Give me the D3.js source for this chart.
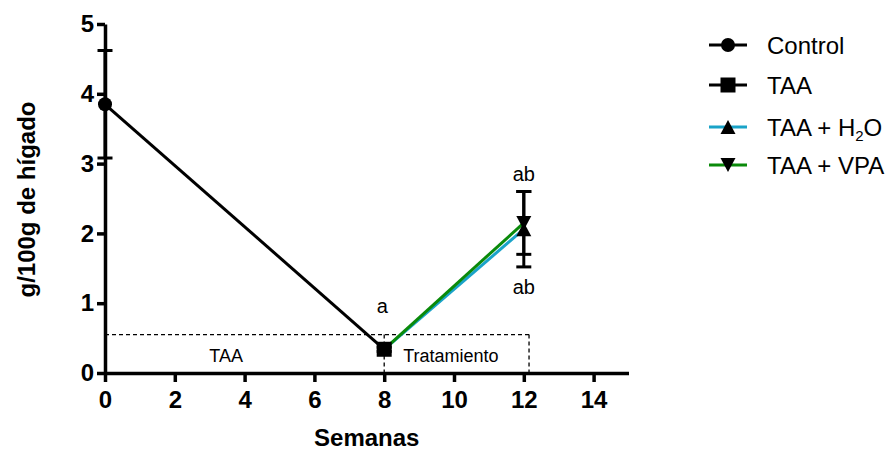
<!DOCTYPE html>
<html>
<head>
<meta charset="utf-8">
<script src="https://cdn.jsdelivr.net/npm/d3@7"></script>
<style>
  html, body { margin: 0; padding: 0; background: #fff; }
  svg { display: block; }
  text { font-family: "Liberation Sans", Arial, sans-serif; fill: #000; }
</style>
</head>
<body>
<svg id="chart" width="893" height="450"></svg>
<script>
// Liver fat content (g/100 g liver) over the weeks of the protocol
const groups = ["Control", "TAA", "TAA + H2O", "TAA + VPA"];
const groupWeeks = [0, 8, 12, 12];
const groupMeans = [3.85, 0.34, 2.06, 2.15];
const groupSems  = [0.77, 0.03, 0.54, 0.45];
const groupColors = ["#000000", "#000000", "#1aa3c8", "#0a8a0a"];
const groupShapes = ["circle", "square", "triangleUp", "triangleDown"];

// segments joining the group means (index pairs into the arrays above)
const segments = [[0, 1], [1, 2], [1, 3]];

const xTicks = [0, 2, 4, 6, 8, 10, 12, 14];
const yTicks = [0, 1, 2, 3, 4, 5];

// phase box: TAA induction (0-8) and treatment (8-12)
const phaseTop = 0.55;
const phaseBounds = [0, 8, 12.15];
const phaseLabels = ["TAA", "Tratamiento"];

// significance letters
const sigLetters = ["a", "ab", "ab"];

const svg = d3.select("#chart");
const x = d3.scaleLinear().domain([0, 15]).range([105, 628.5]);
const y = d3.scaleLinear().domain([0, 5]).range([373, 24]);

function markerPath(shape) {
  if (shape === "circle") return d3.symbol(d3.symbolCircle, Math.PI * 7 * 7)();
  if (shape === "square") return d3.symbol(d3.symbolSquare, 15 * 15)();
  const w = 7.5, h = 7;
  if (shape === "triangleUp") return `M0,${-h}L${w},${h}L${-w},${h}Z`;
  return `M0,${h}L${w},${-h}L${-w},${-h}Z`;
}

// dashed phase box
const box = svg.append("g").attr("fill", "none").attr("stroke", "#000")
  .attr("stroke-width", 1.3).attr("stroke-dasharray", "4,3");
box.append("line")
  .attr("x1", x(phaseBounds[0])).attr("x2", x(phaseBounds[2]))
  .attr("y1", y(phaseTop)).attr("y2", y(phaseTop));
[phaseBounds[1], phaseBounds[2]].forEach(v => {
  box.append("line").attr("x1", x(v)).attr("x2", x(v))
    .attr("y1", y(phaseTop)).attr("y2", y(0));
});
svg.append("text").attr("x", x(3.47))
  .attr("y", 362).attr("text-anchor", "middle").attr("font-size", 18)
  .text(phaseLabels[0]);
svg.append("text").attr("x", x(phaseBounds[1]) + 19)
  .attr("y", 362).attr("font-size", 18).text(phaseLabels[1]);

// axes
const xAxis = svg.append("g").attr("transform", `translate(0,${y(0)})`)
  .call(d3.axisBottom(x).tickValues(xTicks).tickFormat(d3.format("d"))
    .tickSize(9).tickSizeOuter(0).tickPadding(9));
const yAxis = svg.append("g").attr("transform", `translate(${x(0)},0)`)
  .call(d3.axisLeft(y).tickValues(yTicks).tickFormat(d3.format("d"))
    .tickSize(8).tickSizeOuter(0).tickPadding(3));
[xAxis, yAxis].forEach(a => {
  a.select(".domain").attr("stroke", "#000").attr("stroke-width", 3.5);
  a.selectAll(".tick line").attr("stroke", "#000").attr("stroke-width", 3.5);
  a.selectAll(".tick text").attr("font-size", 24).attr("font-weight", "bold")
    .attr("font-family", "'Liberation Sans', Arial, sans-serif").attr("fill", "#000");
});

// axis titles
svg.append("text").attr("x", (x(0) + x(15)) / 2).attr("y", 446)
  .attr("text-anchor", "middle").attr("font-size", 24).attr("font-weight", "bold")
  .text("Semanas");
svg.append("text").attr("transform", `translate(35,${(y(0) + y(5)) / 2 + 1}) rotate(-90)`)
  .attr("text-anchor", "middle").attr("font-size", 24).attr("font-weight", "bold")
  .text("g/100g de hígado");

// connecting lines
segments.forEach(([a, b]) => {
  svg.append("line")
    .attr("x1", x(groupWeeks[a])).attr("y1", y(groupMeans[a]))
    .attr("x2", x(groupWeeks[b])).attr("y2", y(groupMeans[b]))
    .attr("stroke", groupColors[b]).attr("stroke-width", 3);
});

// error bars (mean ± SEM)
groups.forEach((g, i) => {
  const cx = x(groupWeeks[i]);
  const eb = svg.append("g").attr("stroke", "#000").attr("stroke-width", 3);
  const lo = y(groupMeans[i] - groupSems[i]), hi = y(groupMeans[i] + groupSems[i]);
  eb.append("line").attr("x1", cx).attr("x2", cx).attr("y1", lo).attr("y2", hi);
  [lo, hi].forEach(v => eb.append("line")
    .attr("x1", cx - 7.5).attr("x2", cx + 7.5).attr("y1", v).attr("y2", v));
});

// markers
groups.forEach((g, i) => {
  svg.append("path").attr("d", markerPath(groupShapes[i]))
    .attr("transform", `translate(${x(groupWeeks[i])},${y(groupMeans[i])})`)
    .attr("fill", "#000");
});

// significance letters
svg.append("text").attr("x", x(groupWeeks[1]) - 2).attr("y", 313)
  .attr("text-anchor", "middle").attr("font-size", 20).text(sigLetters[0]);
svg.append("text").attr("x", x(groupWeeks[3])).attr("y", 181)
  .attr("text-anchor", "middle").attr("font-size", 20).text(sigLetters[1]);
svg.append("text").attr("x", x(groupWeeks[2])).attr("y", 294)
  .attr("text-anchor", "middle").attr("font-size", 20).text(sigLetters[2]);

// legend
const legendRows = [45, 85, 127, 165];
groups.forEach((g, i) => {
  const row = svg.append("g").attr("transform", `translate(0,${legendRows[i]})`);
  row.append("line").attr("x1", 709).attr("x2", 747).attr("y1", 0).attr("y2", 0)
    .attr("stroke", groupColors[i]).attr("stroke-width", 3);
  row.append("path").attr("d", markerPath(groupShapes[i]))
    .attr("transform", "translate(728,0)").attr("fill", "#000");
  const t = row.append("text").attr("x", 767).attr("y", 8.5).attr("font-size", 24);
  if (g === "TAA + H2O") {
    t.append("tspan").text("TAA + H");
    t.append("tspan").attr("font-size", 15).attr("dy", 5).text("2");
    t.append("tspan").attr("dy", -5).text("O");
  } else {
    t.text(g);
  }
});
</script>
</body>
</html>
